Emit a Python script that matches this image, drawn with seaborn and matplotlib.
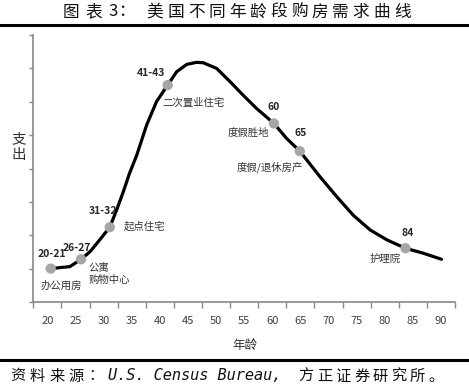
import matplotlib
matplotlib.use("Agg")
import matplotlib.pyplot as plt
import seaborn as sns
import pandas as pd
from matplotlib.lines import Line2D

# ---- data ----
curve_age = [20.6, 22.2, 24.0, 26.0, 27.6, 29.3, 31.1, 32.3, 33.5, 34.6, 35.9, 37.65,
             39.4, 41.4, 43.0, 44.8, 46.5, 47.7, 50.1, 52.5, 54.8, 57.2, 60.3, 62.55,
             64.9, 68.5, 71.5, 74.4, 77.4, 80.4, 83.7, 86.9, 90.1]
curve_value = [1.00, 1.03, 1.06, 1.28, 1.51, 1.86, 2.24, 2.75, 3.30, 3.85, 4.40, 5.30,
               6.00, 6.50, 6.90, 7.12, 7.18, 7.17, 7.00, 6.60, 6.20, 5.80, 5.35, 4.90,
               4.52, 3.75, 3.15, 2.60, 2.16, 1.86, 1.61, 1.46, 1.28]
point_age = [20.6, 26.0, 31.1, 41.4, 60.3, 64.9, 83.7]
point_value = [1.00, 1.28, 2.24, 6.50, 5.35, 4.52, 1.61]
point_label = ["20-21", "26-27", "31-32", "41-43", "60", "65", "84"]
point_desc = ["办公用房", "公寓\n购物中心", "起点住宅", "二次置业住宅", "度假胜地", "度假/退休房产", "护理院"]
x_ticks = [20, 25, 30, 35, 40, 45, 50, 55, 60, 65, 70, 75, 80, 85, 90]
title_head = "图表3："
title_body = "美国不同年龄段购房需求曲线"
source_head = "资料来源："
source_latin = "U.S. Census Bureau,"
source_tail = "方正证券研究所。"

# ---- layout (positions of annotations, in data units) ----
label_pos = [(20.75, 1.44), (25.2, 1.63), (29.8, 2.73), (38.5, 6.87), (60.3, 5.83), (65.05, 5.05), (84.05, 2.06)]
desc_pos = [(22.5, 0.48, "center"), (27.4, 0.84, "left"), (37.3, 2.25, "center"), (46.0, 5.95, "center"),
            (55.7, 5.08, "center"), (59.6, 4.03, "center"), (80.1, 1.29, "center")]

sns.set_theme(style="white")
plt.rcParams["font.family"] = ["Noto Sans CJK SC", "DejaVu Sans"]

W, H = 469, 386
fig = plt.figure(figsize=(W / 100, H / 100), dpi=100)
ax = fig.add_axes([33.3 / W, 1 - 302 / H, (455 - 33.3) / W, (302 - 35) / H])

df = pd.DataFrame({"age": curve_age, "value": curve_value})
sns.lineplot(data=df, x="age", y="value", ax=ax, color="black", linewidth=2.3, sort=False)
pts = pd.DataFrame({"age": point_age, "value": point_value})
sns.scatterplot(data=pts, x="age", y="value", ax=ax, color="#a6a6a6", s=55, edgecolor="none", zorder=5)

txt = "#333333"
for (lx, ly), lab in zip(label_pos, point_label):
    ax.text(lx, ly, lab, ha="center", va="center", fontsize=7.5, color="#262626", fontweight="bold")
for (dx, dy, ha), d in zip(desc_pos, point_desc):
    ax.text(dx, dy, d, ha=ha, va="center", fontsize=7.5, color=txt, linespacing=1.2)

ax.set_xlim(17.5, 92.5)
ax.set_ylim(0, 8)
ax.set_xticks(x_ticks)
ax.set_xticklabels([str(v) for v in x_ticks], fontsize=8, color="#404040")
ax.tick_params(axis="x", which="major", length=0, pad=10)
ax.set_xticks([17.5 + 5 * i for i in range(16)], minor=True)
ax.tick_params(axis="x", which="minor", length=4, width=1, color="#888888", direction="out", bottom=True)
ax.set_yticks(range(0, 9))
ax.set_yticklabels([])
ax.tick_params(axis="y", which="major", length=3, width=1, color="#888888", direction="out", left=True)
for s in ["top", "right"]:
    ax.spines[s].set_visible(False)
for s in ["left", "bottom"]:
    ax.spines[s].set_color("#888888")
    ax.spines[s].set_linewidth(1.2)
ax.set_xlabel("")
ax.set_ylabel("")

fig.text(19 / W, 1 - 147 / H, "支\n出", ha="center", va="center", fontsize=10.5, color=txt, linespacing=1.15)
fig.text(245 / W, 1 - 345 / H, "年龄", ha="center", va="center", fontsize=9, color=txt)


def place_chars(chars, x0, pitch, y, **kw):
    for i, ch in enumerate(chars):
        fig.text((x0 + i * pitch) / W, 1 - y / H, ch, ha="center", va="center", **kw)


# title
place_chars(title_head[:2], 71, 23, 12, fontsize=12, color="#111111")
fig.text(113 / W, 1 - 12 / H, title_head[2], ha="center", va="center", fontsize=12, color="#111111")
fig.text(126 / W, 1 - 12 / H, title_head[3], ha="center", va="center", fontsize=12, color="#111111")
place_chars(title_body, 155, 20.6, 12, fontsize=12, color="#111111")

fig.add_artist(Line2D([0, 1], [1 - 25 / H, 1 - 25 / H], transform=fig.transFigure, color="black", linewidth=2.2))
fig.add_artist(Line2D([0, 1], [1 - 360 / H, 1 - 360 / H], transform=fig.transFigure, color="black", linewidth=2.2))

# source line
place_chars(source_head, 18, 19.4, 376, fontsize=11, color="#111111")
fig.text(108 / W, 1 - 376 / H, source_latin, ha="left", va="center", fontsize=11, color="#111111",
         family=["DejaVu Sans Mono"], style="italic")
place_chars(source_tail, 306, 18.6, 376, fontsize=11, color="#111111")

fig.savefig("out.png", dpi=100)
